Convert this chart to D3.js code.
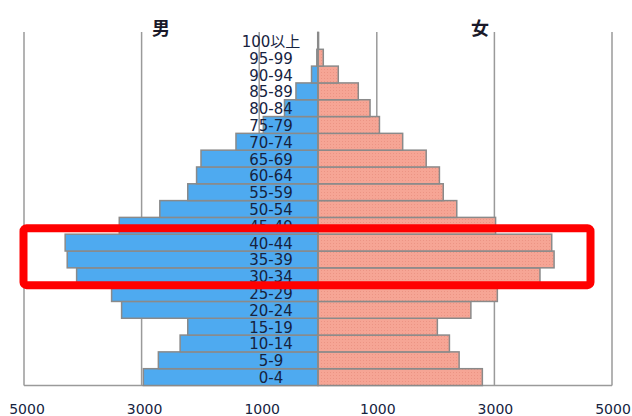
<!DOCTYPE html>
<html><head><meta charset="utf-8">
<script src="https://cdn.jsdelivr.net/npm/d3@7"></script>
<style>html,body{margin:0;padding:0;background:#fff;}svg{display:block;}</style>
</head><body>
<svg id="c" width="632" height="416"></svg>
<script>
const ages = ["0-4","5-9","10-14","15-19","20-24","25-29","30-34","35-39","40-44","45-49","50-54","55-59","60-64","65-69","70-74","75-79","80-84","85-89","90-94","95-99","100以上"];
const male   = [2970,2715,2345,2215,3340,3510,4105,4265,4300,3380,2690,2215,2065,1990,1395,930,570,375,110,20,5];
const female = [2795,2400,2235,2030,2600,3050,3775,4015,3975,3020,2360,2130,2065,1840,1440,1045,885,685,345,90,10];
const tickVals = [-5000,-3000,-1000,1000,3000,5000];
const tickLabels = ["5000","3000","1000","1000","3000","5000"];
const sideLabels = ["男","女"];
const highlight = ["30-34","40-44"];

const svg = d3.select("#c");
const x = d3.scaleLinear().domain([-5000,5000]).range([24,612]);
const y = d3.scaleBand().domain(ages).range([385.5,32.5]).padding(0);

const defs = svg.append("defs");
const pat = defs.append("pattern").attr("id","dots").attr("patternUnits","userSpaceOnUse").attr("width",3).attr("height",3);
pat.append("rect").attr("width",3).attr("height",3).attr("fill","#f6a595");
pat.append("rect").attr("x",0).attr("y",0).attr("width",1).attr("height",1).attr("fill","#ec9484");

// gridlines
svg.append("g").selectAll("line").data(tickVals).join("line")
  .attr("x1",d=>x(d)).attr("x2",d=>x(d)).attr("y1",32).attr("y2",385.5)
  .attr("stroke","#9a9a9a").attr("stroke-width",1.5);
svg.append("line").attr("x1",x(-5000)).attr("x2",x(5000)).attr("y1",385.5).attr("y2",385.5)
  .attr("stroke","#9a9a9a").attr("stroke-width",1.5);

// bars
svg.append("g").selectAll("rect").data(ages).join("rect")
  .attr("x",(d,i)=>x(-male[i])).attr("y",d=>y(d))
  .attr("width",(d,i)=>x(0)-x(-male[i])).attr("height",y.bandwidth())
  .attr("fill","#4eaaf0").attr("stroke","#8a8a8a").attr("stroke-width",1.5);
svg.append("g").selectAll("rect").data(ages).join("rect")
  .attr("x",x(0)).attr("y",d=>y(d))
  .attr("width",(d,i)=>x(female[i])-x(0)).attr("height",y.bandwidth())
  .attr("fill","url(#dots)").attr("stroke","#8a8a8a").attr("stroke-width",1.5);
svg.append("line").attr("x1",x(0)).attr("x2",x(0)).attr("y1",32).attr("y2",385.5)
  .attr("stroke","#8a8a8a").attr("stroke-width",1.5);

// age labels
svg.append("g").selectAll("text").data(ages).join("text")
  .attr("x",271).attr("y",d=>y(d)+y.bandwidth()/2+1)
  .attr("text-anchor","middle").attr("dominant-baseline","central")
  .attr("font-family","DejaVu Sans, Noto Sans CJK JP").attr("font-size",15)
  .attr("fill","#16233f").text(d=>d);

// axis labels
svg.append("g").selectAll("text").data(tickVals).join("text")
  .attr("x",d=>x(d)+ (d<0?3:1)).attr("y",409)
  .attr("text-anchor","middle").attr("dominant-baseline","central")
  .attr("font-family","DejaVu Sans").attr("font-size",14)
  .attr("fill","#16233f").text((d,i)=>tickLabels[i]);

// side labels
svg.append("g").selectAll("text").data(sideLabels).join("text")
  .attr("x",(d,i)=>i===0?161:480).attr("y",27)
  .attr("text-anchor","middle").attr("dominant-baseline","central")
  .attr("font-family","Noto Sans CJK JP").attr("font-size",18).attr("font-weight",700)
  .attr("fill","#1a1a2a").text(d=>d);

// highlight box
const hy0 = y(highlight[1]), hy1 = y(highlight[0]) + y.bandwidth();
svg.append("rect").attr("x",23.5).attr("y",hy0-6).attr("width",567).attr("height",(hy1-hy0)+6.5)
  .attr("rx",3).attr("fill","none").attr("stroke","#ff0000").attr("stroke-width",8);
</script>
</body></html>
